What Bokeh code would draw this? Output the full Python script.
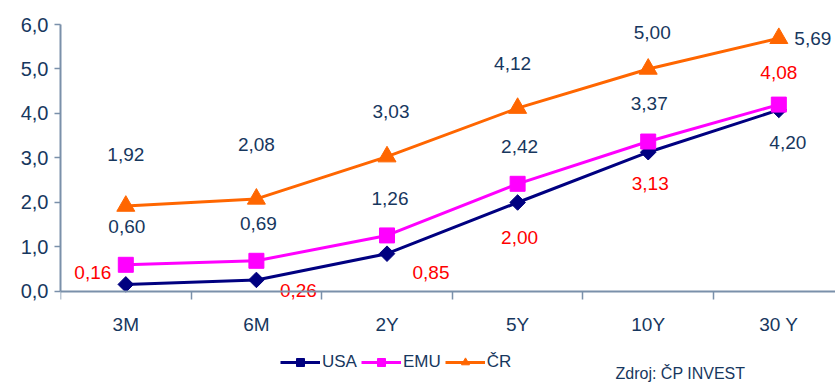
import math
from bokeh.plotting import figure
from bokeh.models import (FixedTicker, Range1d, ColumnDataSource, Legend, LegendItem,
                          Label, CustomJSTickFormatter)
from bokeh.core.properties import value
from bokeh.embed import file_html
from bokeh.resources import INLINE

# ---- data ----
categories = ["3M", "6M", "2Y", "5Y", "10Y", "30 Y"]
usa = [0.16, 0.26, 0.85, 2.00, 3.13, 4.08]
emu = [0.60, 0.69, 1.26, 2.42, 3.37, 4.20]
cr = [1.92, 2.08, 3.03, 4.12, 5.00, 5.69]
y_ticks = [0, 1, 2, 3, 4, 5, 6]
source_note = "Zdroj: ČP INVEST"

# ---- label offsets (screen px, relative to each point) ----
usa_off = [(-33, -12), (42, 11), (44, 19), (2, 35), (2, 31), (0, -37)]
emu_off = [(1, -38), (2, -37), (3, -37), (2, -37), (1, -38), (9, 38)]
cr_off = [(0, -52), (0, -54), (4, -45), (-5, -45), (4, -36), (34, 0)]

DARK = "#17375e"
AXIS = "#7a90aa"
FONT = "Liberation Sans"

xs = list(range(len(categories)))

# frame: top at 24px, bottom at the window edge; y=0 sits at 291px
p = figure(width=835, height=382, output_backend="svg", toolbar_location=None,
           x_range=Range1d(-0.5, 5.434), y_range=Range1d(-2.045, 6),
           min_border_left=60, min_border_right=0, min_border_top=24,
           min_border_bottom=0)
p.outline_line_color = None
p.xgrid.visible = False
p.ygrid.visible = False
p.background_fill_color = "white"
p.border_fill_color = "white"

# x axis, drawn at y = 0 inside the frame
xa = p.xaxis[0]
xa.fixed_location = 0
xa.ticker = FixedTicker(ticks=xs, minor_ticks=[i - 0.5 for i in xs])
xa.major_label_overrides = {i: c for i, c in enumerate(categories)}
xa.major_tick_out = 0
xa.major_tick_in = 0
xa.minor_tick_out = 8
xa.minor_tick_in = 0
xa.minor_tick_line_color = AXIS
xa.minor_tick_line_width = 1.5
xa.axis_line_color = AXIS
xa.axis_line_width = 2
xa.major_label_standoff = 15
xa.major_label_text_font = FONT
xa.major_label_text_font_size = "19px"
xa.major_label_text_color = DARK

# y axis, limited to 0..6
ya = p.yaxis[0]
ya.bounds = (0, 6)
ya.ticker = FixedTicker(ticks=y_ticks, minor_ticks=[])
ya.formatter = CustomJSTickFormatter(code="return tick.toFixed(1).replace('.', ',');")
ya.major_tick_out = 6
ya.major_tick_in = 0
ya.major_tick_line_color = AXIS
ya.major_tick_line_width = 1.5
ya.axis_line_color = AXIS
ya.axis_line_width = 2
ya.major_label_standoff = 6
ya.major_label_text_font = FONT
ya.major_label_text_font_size = "20px"
ya.major_label_text_color = DARK

def fmt(v):
    return f"{v:.2f}".replace(".", ",")

specs = [
    ("USA", usa, "#000080", "square", 11, math.pi / 4, usa_off, "#ff0000"),
    ("EMU", emu, "#ff00ff", "square", 15, 0, emu_off, DARK),
    ("ČR", cr, "#ff6600", "triangle", 18, 0, cr_off, DARK),
]

items = []
for name, vals, color, marker, size, angle, offs, lcol in specs:
    src = ColumnDataSource(dict(x=xs, y=vals, t=[fmt(v) for v in vals],
                                dx=[o[0] for o in offs], dy=[o[1] for o in offs]))
    lr = p.line("x", "y", source=src, line_color=color, line_width=3)
    mr = p.scatter("x", "y", source=src, marker=marker, size=size, angle=angle,
                   fill_color=color, line_color=color)
    p.text("x", "y", text="t", source=src, x_offset="dx", y_offset="dy",
           text_align="center", text_baseline="middle", text_color=lcol,
           text_font=value(FONT), text_font_size="19px")
    items.append(LegendItem(label=name, renderers=[lr, mr]))

legend = Legend(items=items, orientation="horizontal", location=(220, 10),
                glyph_width=40, glyph_height=20, label_standoff=2, spacing=4,
                padding=0, margin=0, border_line_color=None,
                background_fill_alpha=0,
                label_text_font=FONT, label_text_font_size="17px",
                label_text_color=DARK)
p.add_layout(legend, "center")

note = Label(x=555, y=1, x_units="screen", y_units="screen", text=source_note,
             text_font=FONT, text_font_size="16px", text_color=DARK,
             text_baseline="bottom", text_align="left")
p.add_layout(note)

open("out.html", "w").write(file_html(p, INLINE))
